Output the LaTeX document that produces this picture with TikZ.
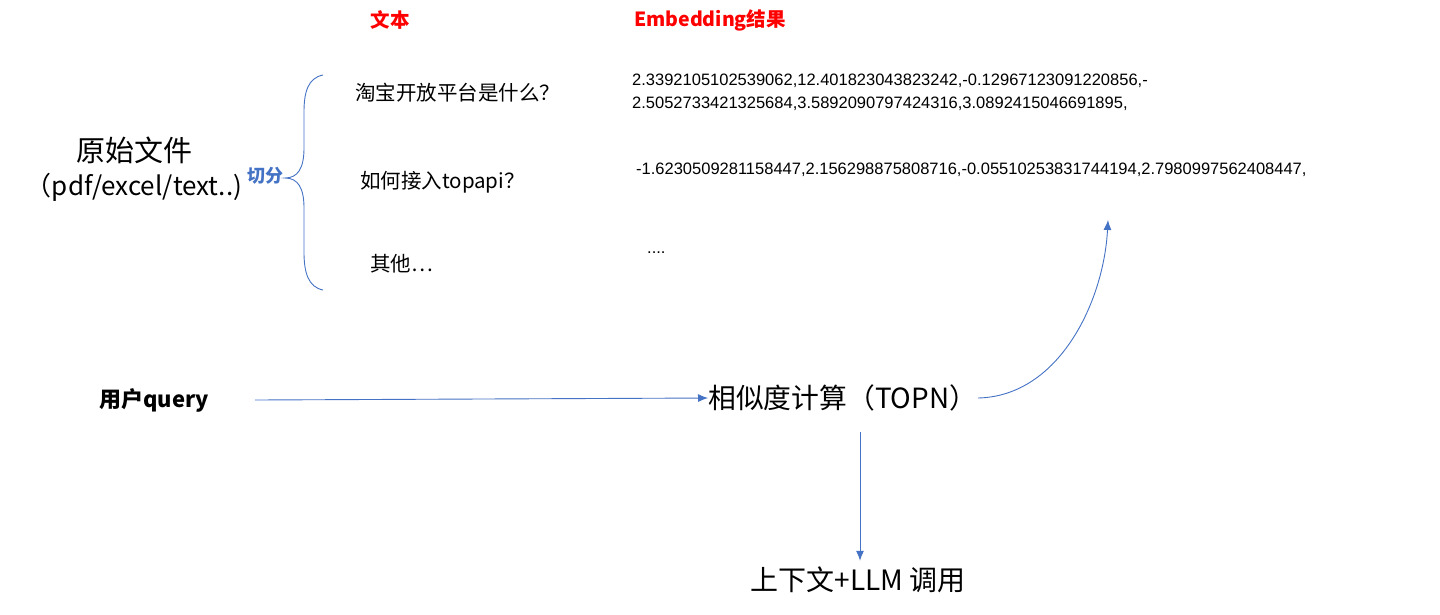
\documentclass[tikz,border=0pt]{standalone}
\usepackage{fontspec}
\setmainfont{Noto Sans CJK SC}
\newfontfamily\numfont{Liberation Sans}
\usepackage{tikz}
\usetikzlibrary{arrows.meta,positioning}

\definecolor{flowblue}{HTML}{4472C4}
\definecolor{headred}{HTML}{FF0000}

\begin{document}
\begin{tikzpicture}[x=1pt,y=-1pt,inner sep=0pt]
    \tikzset{
      headnode/.style={text=headred,font=\fontsize{19.5}{22}\selectfont\bfseries},
      bignode/.style={font=\fontsize{26}{34}\selectfont,align=center},
      textnode/.style={anchor=west,font=\fontsize{20.5}{24}\selectfont},
      numnode/.style={anchor=west,align=left,font=\numfont\fontsize{16.5}{23}\selectfont},
      brace/.style={draw=flowblue,line width=0.9pt},
      arrow/.style={-{Latex[length=10pt,width=8pt]},draw=flowblue,line width=0.9pt}
    }
    \useasboundingbox (0,0) rectangle (1440,614);

    % headers
    \node[headnode] (hdtext) at (390,20) {文本};
    \node[headnode,anchor=west] (hdemb) at (634,20) {Embedding结果};

    % source file and split
    \node[bignode] (src) at (134,169) {{\fontsize{29}{34}\selectfont 原始文件}\\（pdf/excel/text..)};
    \node[text=flowblue,font=\fontsize{18}{20}\selectfont\bfseries,anchor=east] (split) at (284,176) {切分};
    \coordinate (btip) at (285,178);
    \draw[brace] (323,75) .. controls (308,78) and (304,92) .. (304,112) -- (304,148)
      .. controls (304,168) and (298,178) .. (btip)
      .. controls (298,178) and (304,188) .. (304,208) -- (304,252)
      .. controls (304,272) and (308,287) .. (323,290);

    % texts
    \node[textnode] (t1) at (355,93) {淘宝开放平台是什么？};
    \node[textnode] (t2) at (360,182) {如何接入topapi？};
    \node[textnode] (t3) at (370,264) {其他…};

    % embeddings
    \node[numnode] (e1) at (632,92) {2.3392105102539062,12.401823043823242,-0.12967123091220856,-\\2.5052733421325684,3.5892090797424316,3.0892415046691895,};
    \node[numnode] (e2) at (636,170) { -1.6230509281158447,2.156298875808716,-0.05510253831744194,2.7980997562408447,};
    \node[numnode] (e3) at (647,253) {....};
    \coordinate (embin) at (1108,220);

    % query flow
    \node[font=\fontsize{22}{26}\selectfont\bfseries] (query) at (154,400) {用户query};
    \node[font=\fontsize{27.8}{32}\selectfont,anchor=west] (sim) at (708,398) {相似度计算（TOPN）};
    \node[font=\fontsize{28}{32}\selectfont] (ctx) at (858,580) {上下文+LLM 调用};
    \coordinate (simout) at (860,432);

    \draw[arrow] (query.east) ++(46,0) -- (sim.west);
    \draw[arrow] (sim.east) ++(1,0) .. controls (1060,396) and (1104,300) .. (embin);
    \draw[arrow] (simout) -- ([yshift=6pt]simout |- ctx.north);

\end{tikzpicture}
\end{document}
